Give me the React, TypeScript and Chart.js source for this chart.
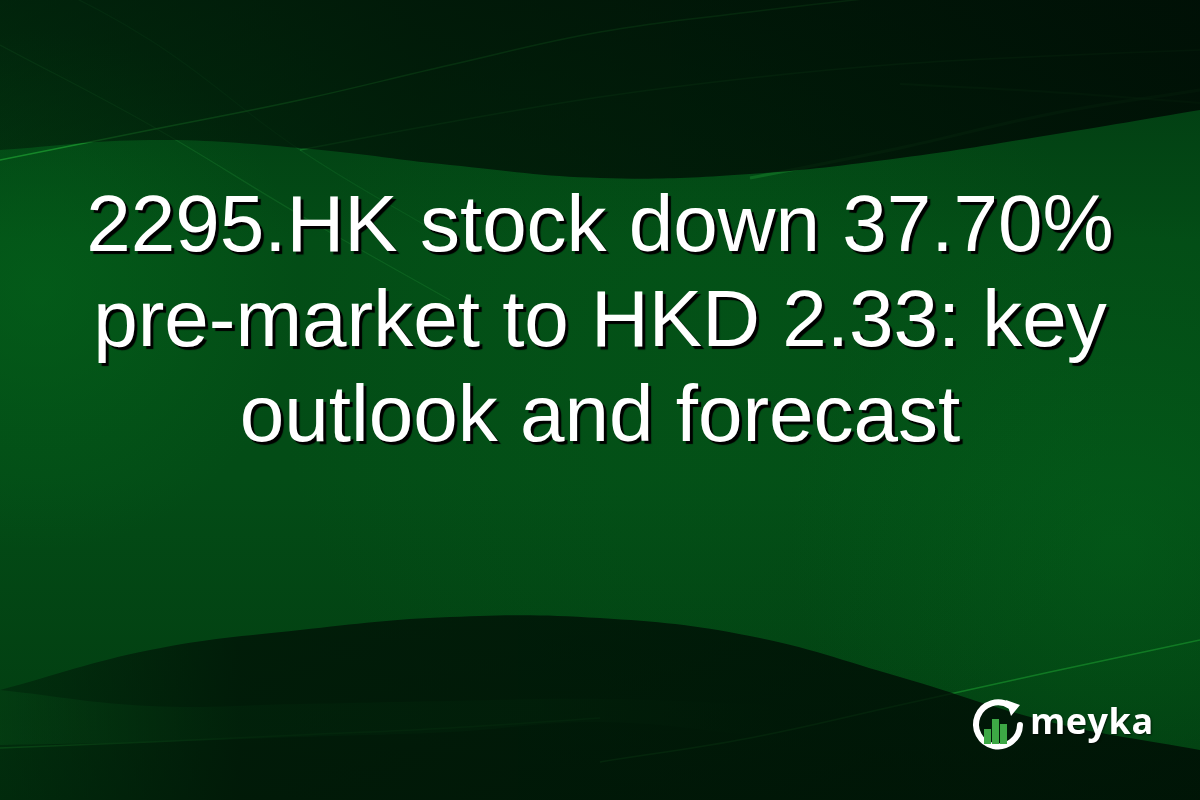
import { useEffect, useRef } from "react";
import { Chart, registerables } from "chart.js";

Chart.register(...registerables);

// headline lines
const headlineLines = [
  "2295.HK stock down 37.70%",
  "pre-market to HKD 2.33: key",
  "outlook and forecast",
];
const brandName = "meyka";

// background wave curves, sampled at these x positions (px on the 1200x800 card)
const waveX = [0, 150, 300, 450, 600, 750, 900, 1050, 1200];
const topEdge = [0, 0, 0, 0, 0, 0, 0, 0, 0];
const swooshBottom = [150, 140, 148, 165, 178, 174, 158, 135, 110];
const upperStreak = [160, 130, 100, 65, 32, 12, -5, -20, -30];
const innerStreak = [null, null, 150, 122, 97, 78, 64, 56, 50];
const rightStreakA = [null, null, null, null, null, 178, 148, 114, 90];
const rightStreakB = [null, null, null, null, null, null, 84, 92, 103];
const diagStreakA = [45, 125, 215, 300, null, null, null, null, null];
const diagStreakB = [-40, 40, 150, 240, null, null, null, null, null];
const lowWaveTop = [690, 650, 630, 617, 618, 636, 677, 722, 750];
const lowWaveBottom = [800, 800, 800, 800, 800, 800, 800, 800, 800];
const glowTop = [690, 706, 704, 701, 699, 704, 712, 740, 770];
const glowBottom = [745, 742, 737, 732, 722, 735, 752, 768, 780];
const lowStreak = [null, null, null, null, 762, 738, 705, 672, 640];
const edgeStreak = [748, 742, 735, 728, 718, null, null, null, null];

const pts = (ys: (number | null)[]) => ys.map((y, i) => ({ x: waveX[i], y }));

// horizontal fade used by the shaded bands
const fade = (chart: Chart, stops: [number, string][]) => {
  const g = chart.ctx.createLinearGradient(0, 0, chart.width, 0);
  stops.forEach(([o, c]) => g.addColorStop(o, c));
  return g;
};

// base green behind the waves
const backdrop = {
  id: "backdrop",
  beforeDraw(chart: Chart) {
    const { ctx, width, height } = chart;
    ctx.save();
    const g = ctx.createLinearGradient(0, 0, 0, height);
    g.addColorStop(0, "#023611");
    g.addColorStop(0.3, "#034d16");
    g.addColorStop(0.6, "#034c16");
    g.addColorStop(1, "#023a10");
    ctx.fillStyle = g;
    ctx.fillRect(0, 0, width, height);
    const spots: [number, number, number, string][] = [
      [40, 290, 260, "rgba(4,105,28,0.45)"],
      [1120, 540, 330, "rgba(4,105,28,0.40)"],
      [700, 380, 420, "rgba(4,95,26,0.25)"],
    ];
    spots.forEach(([x, y, r, c]) => {
      const rg = ctx.createRadialGradient(x, y, 10, x, y, r);
      rg.addColorStop(0, c);
      rg.addColorStop(1, "rgba(4,105,28,0)");
      ctx.fillStyle = rg;
      ctx.fillRect(0, 0, width, height);
    });
    ctx.restore();
  },
};

export default function App() {
  const canvasRef = useRef<HTMLCanvasElement>(null);
  const chartRef = useRef<Chart | null>(null);

  useEffect(() => {
    document.body.style.margin = "0";
    if (!canvasRef.current) return;
    if (chartRef.current) chartRef.current.destroy();

    const band = (ys: (number | null)[], fill: string | false, color: any) => ({
      data: pts(ys),
      borderWidth: 0,
      borderColor: "transparent",
      backgroundColor: color,
      fill: fill as any,
      pointRadius: 0,
      tension: 0.4,
    });
    const streak = (ys: (number | null)[], color: string, w: number) => ({
      data: pts(ys),
      borderWidth: w,
      borderColor: color,
      fill: false,
      pointRadius: 0,
      tension: 0.4,
      spanGaps: false,
    });

    chartRef.current = new Chart(canvasRef.current, {
      type: "line",
      data: {
        datasets: [
          band(topEdge, false, "transparent"),
          band(swooshBottom, "-1", (c: any) =>
            fade(c.chart, [
              [0, "rgba(0,14,5,0.45)"],
              [0.35, "rgba(0,14,5,0.7)"],
              [1, "rgba(0,10,4,0.85)"],
            ])
          ),
          streak(upperStreak, "rgba(30,160,50,0.7)", 1.5),
          streak(innerStreak, "rgba(30,150,50,0.45)", 1.5),
          streak(rightStreakA, "rgba(30,150,50,0.4)", 3),
          streak(rightStreakB, "rgba(30,150,50,0.35)", 2),
          streak(diagStreakA, "rgba(40,150,60,0.25)", 1.2),
          streak(diagStreakB, "rgba(40,150,60,0.18)", 1.2),
          band(lowWaveTop, false, "transparent"),
          band(lowWaveBottom, "-1", (c: any) =>
            fade(c.chart, [
              [0, "rgba(0,14,5,0.35)"],
              [0.2, "rgba(0,14,5,0.72)"],
              [1, "rgba(0,12,4,0.82)"],
            ])
          ),
          band(glowTop, false, "transparent"),
          band(glowBottom, "-1", (c: any) =>
            fade(c.chart, [
              [0, "rgba(8,110,32,0.45)"],
              [0.45, "rgba(8,110,32,0.35)"],
              [0.65, "rgba(8,110,32,0)"],
              [1, "rgba(8,110,32,0)"],
            ])
          ),
          streak(lowStreak, "rgba(30,160,50,0.55)", 1.5),
          streak(edgeStreak, "rgba(30,160,50,0.4)", 1.5),
        ] as any,
      },
      options: {
        animation: false,
        responsive: true,
        maintainAspectRatio: false,
        events: [],
        layout: { padding: 0 },
        scales: {
          x: { type: "linear", min: 0, max: 1200, display: false },
          y: { type: "linear", min: 0, max: 800, reverse: true, display: false },
        },
        plugins: { legend: { display: false }, tooltip: { enabled: false } },
      },
      plugins: [backdrop],
    });

    return () => {
      if (chartRef.current) {
        chartRef.current.destroy();
        chartRef.current = null;
      }
    };
  }, []);

  return (
    <div style={{ position: "relative", width: 1200, height: 800, overflow: "hidden" }}>
      <canvas ref={canvasRef} />
      <div
        style={{
          position: "absolute",
          top: 176,
          left: 0,
          width: 1200,
          textAlign: "center",
          color: "#fff",
          fontFamily: "'Liberation Sans', Arial, sans-serif",
          fontSize: 80,
          lineHeight: "95px",
          textShadow: "3px 3px 1px #000",
        }}
      >
        {headlineLines.map((l) => (
          <div key={l}>{l}</div>
        ))}
      </div>
      <svg
        style={{ position: "absolute", left: 970, top: 697 }}
        width={56}
        height={56}
        viewBox="0 0 56 56"
      >
        <path
          d="M 40 9 A 22 22 0 1 0 50 28"
          fill="none"
          stroke="#fff"
          strokeWidth={6}
          strokeLinecap="round"
        />
        <path d="M 36 3 L 50 8 L 41 19 Z" fill="#fff" />
        <rect x={14} y={32} width={7} height={15} fill="#3da845" />
        <rect x={22} y={22} width={7} height={25} fill="#3da845" />
        <rect x={30} y={27} width={7} height={20} fill="#3da845" />
      </svg>
      <div
        style={{
          position: "absolute",
          left: 1030,
          top: 696,
          color: "#fff",
          fontFamily: "'Open Sans', sans-serif",
          fontWeight: 700,
          fontSize: 36,
          letterSpacing: 0.5,
          textShadow: "1px 1px 2px rgba(0,0,0,0.6)",
        }}
      >
        {brandName}
      </div>
    </div>
  );
}
